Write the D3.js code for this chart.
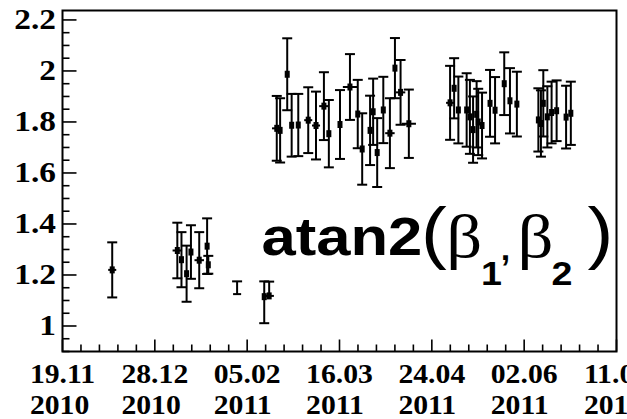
<!DOCTYPE html>
<html>
<head>
<meta charset="utf-8">
<script src="https://cdn.jsdelivr.net/npm/d3@7"></script>
<style>
  html, body { margin: 0; padding: 0; background: #fff; }
  svg { display: block; }
</style>
</head>
<body>
<svg id="chart" width="627" height="419"></svg>
<script>
// Measurement times (UTC) and fitted angle atan2(beta1, beta2) with errors
const dates = [
  "2010-12-10 00", "2011-01-06 12", "2011-01-08 06", "2011-01-10 10", "2011-01-12 06",
  "2011-01-15 18", "2011-01-19 02", "2011-01-19 14", "2011-01-31 18", "2011-02-12 05",
  "2011-02-14 07",
  "2011-02-17 12", "2011-02-18 22", "2011-02-21 22", "2011-02-23 19", "2011-02-26 14",
  "2011-03-02 19", "2011-03-06 02", "2011-03-09 10", "2011-03-11 12", "2011-03-16 05",
  "2011-03-20 10", "2011-03-23 17", "2011-03-25 14", "2011-03-28 22", "2011-03-30 05",
  "2011-03-31 22", "2011-04-03 12", "2011-04-06 07", "2011-04-08 10", "2011-04-10 19",
  "2011-04-14 07",
  "2011-05-01 17", "2011-05-03 10", "2011-05-05 05", "2011-05-08 17", "2011-05-10 02",
  "2011-05-11 10", "2011-05-12 22", "2011-05-13 14", "2011-05-15 05", "2011-05-18 14",
  "2011-05-20 17", "2011-05-24 14", "2011-05-27 00", "2011-05-29 22",
  "2011-06-08 00", "2011-06-09 02", "2011-06-10 02", "2011-06-11 19", "2011-06-13 14",
  "2011-06-15 17", "2011-06-19 17", "2011-06-21 17"
];
const values = [
  1.220, 1.296, 1.260, 1.205, 1.290,
  1.258, 1.313, 1.240, 1.125, 1.115,
  1.118,
  1.775, 1.767, 1.987, 1.787, 1.788,
  1.807, 1.786, 1.862, 1.754, 1.790,
  1.937, 1.831, 1.694, 1.767, 1.840,
  1.680, 1.847, 1.756, 2.011, 1.916,
  1.793,
  1.875, 1.932, 1.847, 1.847, 1.820,
  1.770, 1.830, 1.800, 1.786, 1.873,
  1.846, 1.950, 1.883, 1.870,
  1.808, 1.794, 1.873, 1.820, 1.837,
  1.844, 1.819, 1.834
];
const errHigh = [
  0.108, 0.109, 0.108, 0.110, 0.105,
  0.110, 0.109, 0.035, 0.050, 0.060,
  0.056,
  0.127, 0.126, 0.141, 0.123, 0.122,
  0.129, 0.133, 0.133, 0.132, 0.135,
  0.129, 0.134, 0.140, 0.136, 0.130,
  0.135, 0.130, 0.137, 0.118, 0.127,
  0.134,
  0.145, 0.118, 0.131, 0.144, 0.145,
  0.130, 0.130, 0.130, 0.129, 0.131,
  0.130, 0.123, 0.128, 0.127,
  0.124, 0.130, 0.130, 0.120, 0.121,
  0.119, 0.123, 0.124
];
const errLow = [
  0.108, 0.109, 0.108, 0.110, 0.105,
  0.110, 0.109, 0.035, 0.000, 0.104,
  0.000,
  0.127, 0.126, 0.141, 0.123, 0.122,
  0.129, 0.133, 0.133, 0.132, 0.135,
  0.129, 0.134, 0.140, 0.136, 0.130,
  0.135, 0.130, 0.137, 0.118, 0.127,
  0.134,
  0.145, 0.118, 0.131, 0.144, 0.145,
  0.130, 0.130, 0.130, 0.129, 0.131,
  0.130, 0.123, 0.128, 0.127,
  0.124, 0.130, 0.130, 0.120, 0.121,
  0.119, 0.123, 0.124
];
// half-width of the time bin, in days (0 = no horizontal bar)
const xErrDays = [
  1.7, 2, 0, 0, 0,
  2, 0, 0, 1.7, 0,
  2,
  2, 0, 0, 0, 0,
  1.7, 1.7, 2, 0, 0,
  3, 0, 0, 0, 0,
  0, 0, 2, 0, 2,
  3,
  1.7, 0, 0, 0, 0,
  0, 0, 0, 0, 0,
  0, 0, 0, 0,
  0, 0, 0, 0, 0,
  0, 0, 0
];

const xDomain = ["2010-11-19 00", "2011-07-11 00"];
const xTickDates = ["2010-11-19 00", "2010-12-28 00", "2011-02-05 00", "2011-03-16 00",
                    "2011-04-24 00", "2011-06-02 00", "2011-07-11 00"];
const xTickLabels = [["19.11", "2010"], ["28.12", "2010"], ["05.02", "2011"], ["16.03", "2011"],
                     ["24.04", "2011"], ["02.06", "2011"], ["11.07", "2011"]];
const yDomain = [0.9, 2.237];
const yTickValues = [1, 1.2, 1.4, 1.6, 1.8, 2, 2.2];
const yTickLabels = ["1", "1.2", "1.4", "1.6", "1.8", "2", "2.2"];

const parse = d3.utcParse("%Y-%m-%d %H");
const DAY = 86400000;

const frame = { left: 62.5, top: 10.5, right: 616.5, bottom: 351.5 };
const svg = d3.select("#chart");

const x = d3.scaleUtc().domain(xDomain.map(parse)).range([frame.left, frame.right]);
const y = d3.scaleLinear().domain(yDomain).range([frame.bottom, frame.top]);

// ---- ticks ----
const tickG = svg.append("g").attr("stroke", "#000").attr("stroke-width", 1.6);

// y axis: majors every 0.2, minors every 0.05, pointing inward
const yMinor = d3.range(Math.round(yDomain[0] * 20), Math.floor(yDomain[1] * 20) + 1).map(k => k / 20);
yMinor.forEach(v => {
  const major = yTickValues.some(t => Math.abs(t - v) < 1e-6);
  tickG.append("line")
    .attr("x1", frame.left).attr("x2", frame.left + (major ? 14 : 7))
    .attr("y1", y(v)).attr("y2", y(v));
});

// x axis: majors at the labelled dates, 5 subdivisions between them
const xMajor = xTickDates.map(parse);
const step = (xMajor[1] - xMajor[0]) / 5;
for (let t = +xMajor[0]; t <= +xMajor[xMajor.length - 1] + 1; t += step) {
  const major = xMajor.some(m => Math.abs(+m - t) < 1000);
  tickG.append("line")
    .attr("x1", x(new Date(t))).attr("x2", x(new Date(t)))
    .attr("y1", frame.bottom).attr("y2", frame.bottom - (major ? 12 : 7));
}

// ---- frame ----
svg.append("rect")
  .attr("x", frame.left).attr("y", frame.top)
  .attr("width", frame.right - frame.left).attr("height", frame.bottom - frame.top)
  .attr("fill", "none").attr("stroke", "#000").attr("stroke-width", 2);

// ---- tick labels ----
const labelFont = "'Liberation Serif', 'Times New Roman', serif";
yTickValues.forEach((v, i) => {
  svg.append("text")
    .attr("transform", `translate(56,${y(v) + 9.5}) scale(1.15,1)`)
    .attr("text-anchor", "end")
    .attr("font-family", labelFont).attr("font-weight", "bold").attr("font-size", 29)
    .text(yTickLabels[i]);
});

xTickDates.forEach((d, i) => {
  const g = svg.append("g").attr("transform", `translate(${x(parse(d))},0) scale(1.1,1)`);
  const l1 = g.append("text").attr("y", 383)
    .attr("font-family", labelFont).attr("font-weight", "bold").attr("font-size", 27)
    .text(xTickLabels[i][0]);
  const l2 = g.append("text").attr("y", 414)
    .attr("font-family", labelFont).attr("font-weight", "bold").attr("font-size", 27)
    .text(xTickLabels[i][1]);
  const w = l1.node().getComputedTextLength();
  l1.attr("x", -w / 2);
  l2.attr("x", -w / 2);
});

// ---- data: error bars + markers ----
const pts = dates.map((d, i) => ({
  t: parse(d), v: values[i], hi: errHigh[i], lo: errLow[i], dx: xErrDays[i]
}));

const data = svg.append("g").attr("stroke", "#000").attr("stroke-width", 2).attr("fill", "none");
const cap = 5;
pts.forEach(p => {
  const cx = x(p.t), cy = y(p.v);
  if (p.hi > 0) {
    data.append("line").attr("x1", cx).attr("x2", cx).attr("y1", cy).attr("y2", y(p.v + p.hi));
    data.append("line").attr("x1", cx - cap).attr("x2", cx + cap).attr("y1", y(p.v + p.hi)).attr("y2", y(p.v + p.hi));
  }
  if (p.lo > 0) {
    data.append("line").attr("x1", cx).attr("x2", cx).attr("y1", cy).attr("y2", y(p.v - p.lo));
    data.append("line").attr("x1", cx - cap).attr("x2", cx + cap).attr("y1", y(p.v - p.lo)).attr("y2", y(p.v - p.lo));
  }
  if (p.dx > 0) {
    data.append("line")
      .attr("x1", x(new Date(+p.t - p.dx * DAY))).attr("x2", x(new Date(+p.t + p.dx * DAY)))
      .attr("y1", cy).attr("y2", cy);
  }
});
svg.append("g").selectAll("rect").data(pts.filter(p => p.lo > 0 || p.hi > 0.05)).join("rect")
  .attr("x", p => x(p.t) - 2.5).attr("y", p => y(p.v) - 3.5)
  .attr("width", 5).attr("height", 7).attr("fill", "#000");

// ---- title: atan2(beta_1, beta_2) ----
const sans = "'Liberation Sans', Arial, Helvetica, sans-serif";
const serif = "'Liberation Serif', 'Times New Roman', serif";
const title = svg.append("text")
  .attr("transform", "translate(261.5,255) scale(1.14,1)")
  .attr("font-family", sans);
const parts = [
  { t: "atan2",   x: 0,     dy: 0,   size: 54, w: "bold",   f: sans },
  { t: "(",       x: 140,   dy: 1,   size: 68, w: "normal", f: sans },
  { t: "\u03B2",  x: 162,   dy: 1,   size: 62, w: "normal", f: serif },
  { t: "1",       x: 192.5, dy: 28,  size: 33, w: "bold",   f: sans },
  { t: ",",       x: 208,   dy: -25, size: 44, w: "normal", f: sans },
  { t: "\u03B2",  x: 224.5, dy: -3,  size: 62, w: "normal", f: serif },
  { t: "2",       x: 254.5, dy: 28,  size: 33, w: "bold",   f: sans },
  { t: ")",       x: 286,   dy: -29, size: 68, w: "normal", f: sans }
];
parts.forEach(p => {
  title.append("tspan")
    .attr("x", p.x).attr("dy", p.dy)
    .attr("font-size", p.size).attr("font-weight", p.w).attr("font-family", p.f)
    .text(p.t);
});
</script>
</body>
</html>
